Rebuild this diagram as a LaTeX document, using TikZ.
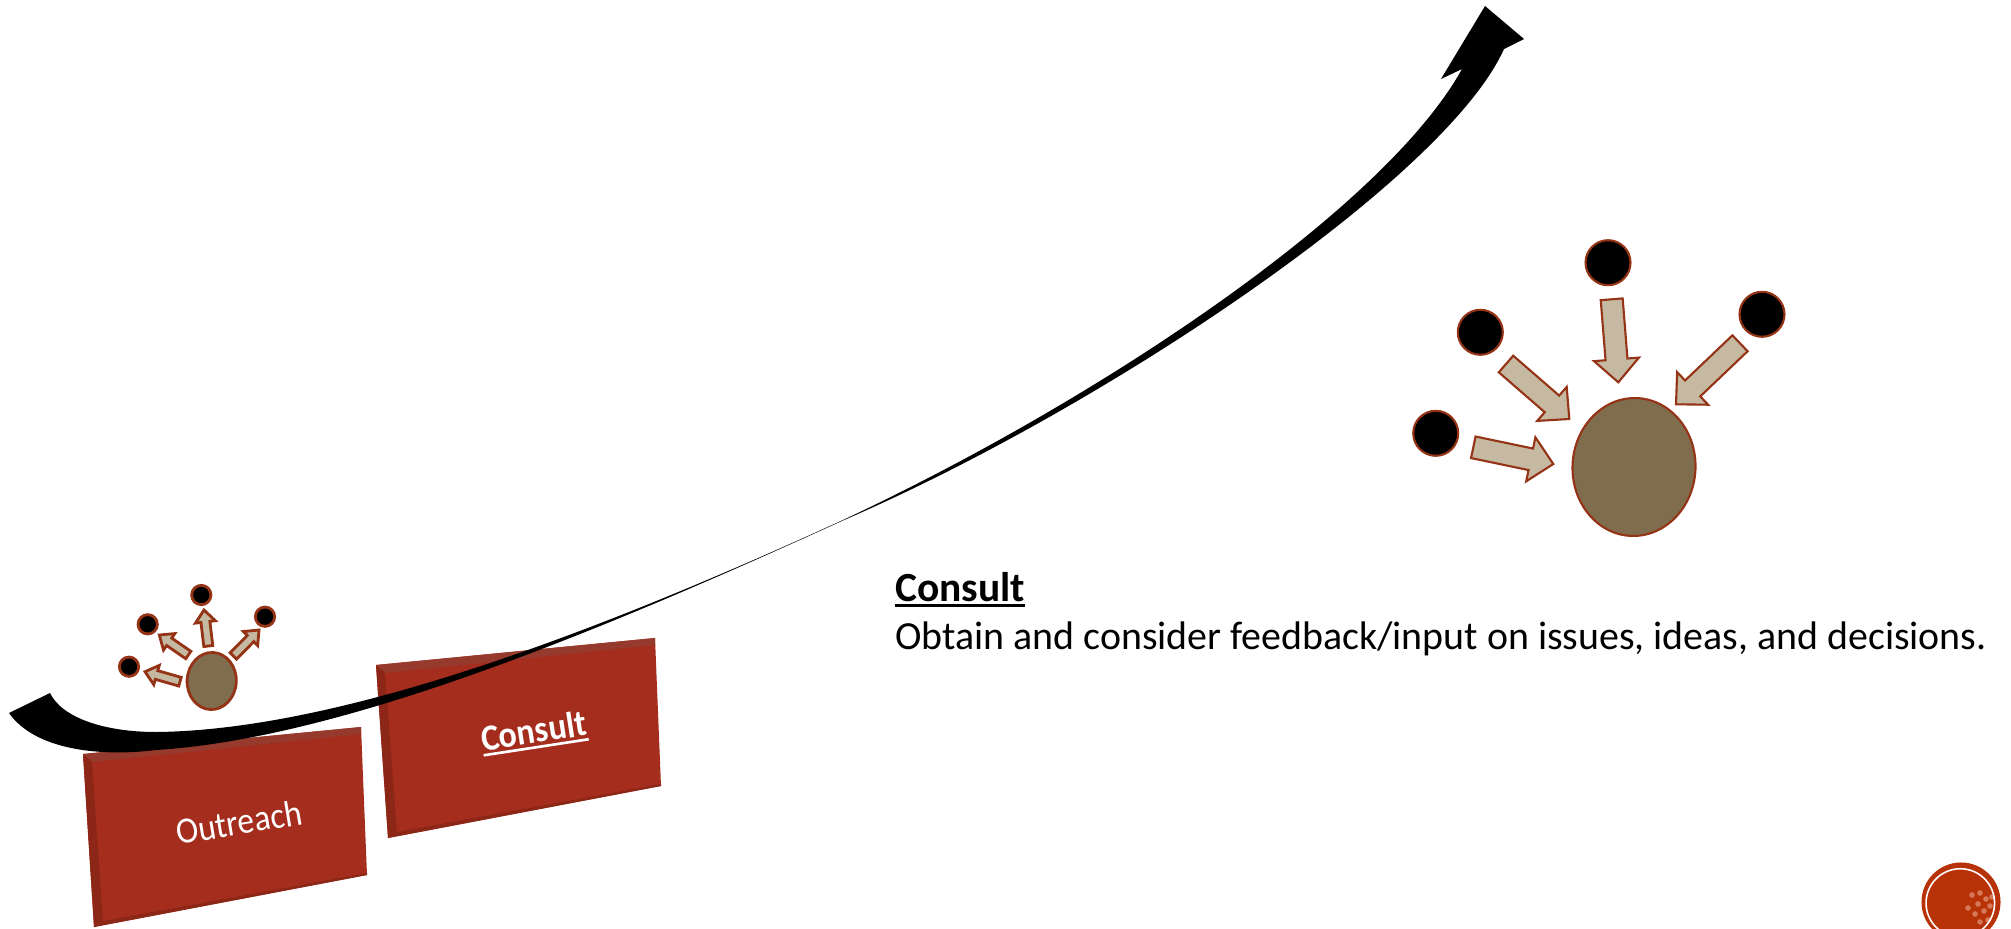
\documentclass[tikz,border=0pt]{standalone}
\usepackage{fontspec}
\setmainfont{Carlito}
\usetikzlibrary{calc,shapes.geometric}

\definecolor{rust}{HTML}{943315}
\definecolor{mud}{HTML}{7F6D4E}
\definecolor{sand}{HTML}{C6B9A2}
\definecolor{brick}{HTML}{A52D1E}
\definecolor{brickdark}{HTML}{8C2616}
\definecolor{bricktop}{HTML}{963A2D}
\definecolor{badge}{HTML}{B83208}
\definecolor{speck}{HTML}{E9A78E}

\newsavebox{\headbox}
\newcommand{\heavyrule}[1]{\sbox{\headbox}{#1}\makebox[0pt][l]{\raisebox{-3.2pt}{\rule{\wd\headbox}{1.5pt}}}\usebox{\headbox}}

\begin{document}
\begin{tikzpicture}[x=0.02cm,y=-0.02cm]
    \tikzstyle{bigdot}=[circle,draw=rust,fill=black,line width=1.2pt,minimum size=25.6pt,inner sep=0pt]
    \tikzstyle{smalldot}=[bigdot,line width=1.6pt,minimum size=11pt]
    \tikzstyle{hub}=[ellipse,draw=rust,fill=mud,inner sep=0pt]
    \tikzstyle{boxtext}=[text=white,font=\fontsize{21}{24}\selectfont,inner sep=0pt]

    \useasboundingbox (0,0) rectangle (2011,929);

    % Draw the red boxes
    \foreach \name/\ax/\ay/\bx/\by/\cx/\cy/\dx/\dy in {outreach/83/754/361/727/367/875/94/927,consult/376/665/655/638/661/786/388/838} {
        \coordinate (\name-a) at (\ax,\ay);
        \coordinate (\name-b) at (\bx,\by);
        \coordinate (\name-c) at (\cx,\cy);
        \coordinate (\name-d) at (\dx,\dy);
        \fill[brick] (\name-a) -- (\name-b) -- (\name-c) -- (\name-d) -- cycle;
        \fill[bricktop] (\name-a) -- (\name-b) -- ($(\name-b)+(0,7)$) -- ($(\name-a)+(9,8)$) -- cycle;
        \fill[brickdark] (\name-a) -- ($(\name-a)+(9,8)$) -- ($(\name-d)+(9,-6)$) -- (\name-d) -- cycle;
        \fill[brickdark] (\name-d) -- ($(\name-d)+(9,-6)$) -- ($(\name-c)+(0,-2)$) -- (\name-c) -- cycle;
    }
    \node[boxtext,rotate=9.4] (outreachlabel) at (239,822) {\scalebox{0.91}[1]{Outreach}};
    \node[boxtext,rotate=8.7] (consultlabel) at (534,733) {\scalebox{0.92}[1]{\heavyrule{\textbf{Consult}}}};

    % Draw the curved black arrow
    \fill[black] (50,693) .. controls (62,718) and (105,732) .. (156,732)
        .. controls (350,730) and (620,622) .. (843,520)
        .. controls (1103,398) and (1385,208) .. (1462,69)
        -- (1441,79) -- (1485,6) -- (1524,39) -- (1504,49)
        .. controls (1445,180) and (1100,410) .. (843,520.5)
        .. controls (620,622) and (350,738) .. (156,750)
        .. controls (100,757) and (35,750) .. (9,713) -- cycle;

    % Draw the small group
    \node[hub,line width=1.6pt,minimum width=28pt,minimum height=32.5pt,rotate=-3] (S-hub) at (211.7,681) {};
    \foreach \name/\x/\y in {1/129/666.7,2/147.7/624.3,3/201.3/595,4/265/616.7}
        \node[smalldot] (S-\name) at (\x,\y) {};

    % Draw the large group
    \node[hub,line width=1.2pt,minimum width=70pt,minimum height=78.5pt,rotate=-3] (L-hub) at (1634,467) {};
    \foreach \name/\x/\y in {1/1435.7/433.3,2/1480.3/332.3,3/1608/262.7,4/1762/314.3}
        \node[bigdot] (L-\name) at (\x,\y) {};

    % Draw the block arrows
    \foreach \name/\tx/\ty/\hx/\hy/\shaft/\headw/\headl/\edgew in {
        S1/180/681.7/145/671.7/4.5/10/12/1.6pt,
        S2/188.3/655/159.3/635/4.5/10/12/1.6pt,
        S3/208.3/646/204/610/4.5/10/12/1.6pt,
        S4/233.3/656/259/630/4.5/10/12/1.6pt,
        L1/1473.3/447.3/1553.3/464/11/22.5/23/1.2pt,
        L2/1506/364/1569.3/419/11/22.5/23/1.2pt,
        L3/1611.7/299.3/1618.3/382.3/11/22.5/23/1.2pt,
        L4/1740/343.3/1676/404.3/11/22.5/23/1.2pt} {
        \coordinate (\name-t) at (\tx,\ty);
        \coordinate (\name-h) at (\hx,\hy);
        \coordinate (\name-b) at ($(\name-h)!\headl*0.02cm!(\name-t)$);
        \draw[draw=rust,fill=sand,line width=\edgew,line join=miter]
            ($(\name-t)!\shaft*0.02cm!90:(\name-h)$)
            -- ($(\name-b)!\shaft*0.02cm!-90:(\name-t)$)
            -- ($(\name-b)!\headw*0.02cm!-90:(\name-t)$)
            -- (\name-h)
            -- ($(\name-b)!\headw*0.02cm!90:(\name-t)$)
            -- ($(\name-b)!\shaft*0.02cm!90:(\name-t)$)
            -- ($(\name-t)!\shaft*0.02cm!-90:(\name-h)$) -- cycle;
    }

    % Annotate
    \node[anchor=base west,inner sep=0pt,font=\fontsize{23.6}{26}\selectfont] (title) at (895,601) {\heavyrule{\textbf{Consult}}};
    \node[anchor=base west,inner sep=0pt,font=\fontsize{22.7}{26}\selectfont] (body) at (895,649) {Obtain and consider feedback/input on issues, ideas, and decisions.};

    % Page badge
    \begin{scope}
        \clip (0,0) rectangle (2011,929);
        \node[circle,fill=badge,minimum size=45pt,inner sep=0pt] (badgeback) at (1961,902) {};
        \foreach \x/\y in {1972/895,1980/893,1986/899,1978/904,1990/906,1984/911,1975/914,1992/897,1968/908,1988/920,1980/922}
            \fill[speck,opacity=0.6] (\x,\y) circle (1.6pt);
        \node[circle,draw=white,line width=0.9pt,minimum size=39pt,inner sep=0pt] (badgering) at (1960.3,903) {};
    \end{scope}
\end{tikzpicture}
\end{document}
